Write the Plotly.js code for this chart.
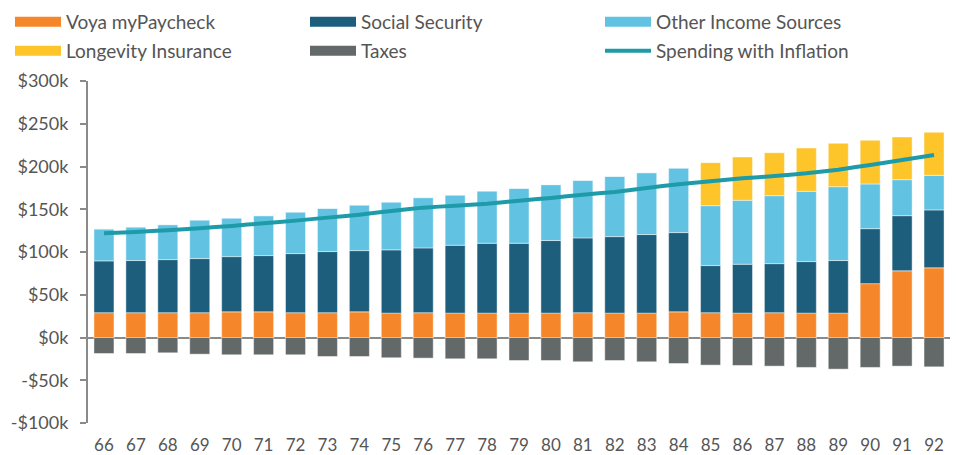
<!DOCTYPE html>
<html>
<head>
<meta charset="utf-8">
<script src="https://cdn.plot.ly/plotly-3.0.1.min.js"></script>
<style>html,body{margin:0;padding:0;background:#fff;}#chart{width:958px;height:455px;}</style>
</head>
<body>
<div id="chart"></div>
<script>
const ages = ["66","67","68","69","70","71","72","73","74","75","76","77","78","79","80","81","82","83","84","85","86","87","88","89","90","91","92"];
const voyaMyPaycheck = [29,29,29,29,30,30,29,29,30,28.5,29,28.5,28.5,28.5,28.5,29,28.5,28.5,30,29,28.5,29,28.5,28.5,63,78,81.5];
const socialSecurity = [60.6,61,62.1,63.3,64.6,65.8,69.1,71.5,71.6,74,75.8,79.4,81.7,81.7,84.9,87.5,89.5,91.9,92.7,55.1,57.2,57.4,60.3,61.5,64.3,64.5,67.7];
const otherIncome = [37.4,39.3,40.9,45.2,45.2,46.7,48.7,50.6,53.4,56,58.8,58.8,61.2,64.3,65.4,67.4,70.5,72.4,75.5,70.1,74.8,79.5,82.2,86.4,52.3,42.1,40.5];
const longevityInsurance = [0,0,0,0,0,0,0,0,0,0,0,0,0,0,0,0,0,0,0,50.3,50.6,50.2,50.6,50.7,51,49.9,50.3];
const taxes = [-18.7,-18.7,-17.9,-19.5,-20.2,-20.2,-20.2,-22.2,-22.2,-23.7,-24.1,-24.9,-24.9,-26.9,-26.9,-28.4,-26.9,-28.4,-30.4,-32.3,-32.7,-33.5,-35,-37,-35,-33.5,-34.3];
const spendingWithInflation = [122,123.5,125.4,127.8,130.5,133.6,136.7,140.2,143.7,148,151.9,154.2,156.5,160,163.2,167,170.2,174.9,179.2,182.7,186.2,188.9,192,196.3,201.8,207.6,213.4];
const yTickVals = [-100,-50,0,50,100,150,200,250,300];
const yTickText = ["-$100k","-$50k","$0k","$50k","$100k","$150k","$200k","$250k","$300k"];

const C = {voya:"#F5872A", ss:"#1C5E7C", other:"#62C2E2", lon:"#FDC52A", tax:"#636968", spend:"#1E9BA8"};
const barLine = {color:"rgba(255,255,255,0.45)", width:1};

function bar(name, y, color){
  return {type:"bar", name:name, x:ages, y:y, marker:{color:color, line:barLine}, showlegend:false, hoverinfo:"x+y+name"};
}
function proxy(name, color, width, lg){
  return {type:"scatter", mode:"lines", name:name, x:[null], y:[null], line:{color:color, width:width}, showlegend:true, legend:lg, hoverinfo:"skip"};
}

const data = [
  bar("Voya myPaycheck", voyaMyPaycheck, C.voya),
  bar("Social Security", socialSecurity, C.ss),
  bar("Other Income Sources", otherIncome, C.other),
  bar("Longevity Insurance", longevityInsurance, C.lon),
  bar("Taxes", taxes, C.tax),
  {type:"scatter", mode:"lines", name:"Spending with Inflation", x:ages, y:spendingWithInflation, line:{color:C.spend, width:4, shape:"spline", smoothing:0.3}, showlegend:false},
  proxy("Voya myPaycheck", C.voya, 14, "legend"),
  proxy("Social Security", C.ss, 14, "legend"),
  proxy("Other Income Sources", C.other, 14, "legend"),
  proxy("Longevity Insurance", C.lon, 14, "legend2"),
  proxy("Taxes", C.tax, 14, "legend2"),
  proxy("Spending with Inflation", C.spend, 4, "legend2")
];

// plot area in pixels: x 88..950, y 81..423
const legFont = {family:"Lato, 'Open Sans', sans-serif", size:19, color:"#555"};
function leg(py){
  return {orientation:"h", xref:"paper", yref:"paper", x:(10 - 88)/862, y:(423 - py)/342, xanchor:"left", yanchor:"middle",
          entrywidth:234, entrywidthmode:"pixels", itemwidth:46, traceorder:"normal",
          font:legFont, bgcolor:"rgba(0,0,0,0)", borderwidth:0};
}
const layout = {
  width:958, height:455,
  margin:{l:88, r:8, t:81, b:32, pad:0, autoexpand:false},
  paper_bgcolor:"#fff", plot_bgcolor:"#fff",
  font:{family:"Lato, 'Open Sans', sans-serif", size:17, color:"#555"},
  barmode:"relative",
  bargap:0.373,
  showlegend:true,
  legend:leg(22),
  legend2:leg(51),
  xaxis:{type:"category", showgrid:false, zeroline:false, showline:false, ticks:"", tickfont:{size:17, color:"#555"}, ticklabelstandoff:10, fixedrange:true},
  yaxis:{range:[-100,300], tickvals:yTickVals, ticktext:yTickText, showgrid:false, zeroline:true, zerolinecolor:"#8a8a8a", zerolinewidth:2,
         showline:true, linecolor:"#8a8a8a", linewidth:2, ticks:"outside", ticklen:6, tickcolor:"#8a8a8a", tickwidth:2,
         tickfont:{size:18, color:"#555"}, ticklabelstandoff:8, fixedrange:true}
};
Plotly.newPlot("chart", data, layout, {displayModeBar:false, staticPlot:true});
</script>
</body>
</html>
